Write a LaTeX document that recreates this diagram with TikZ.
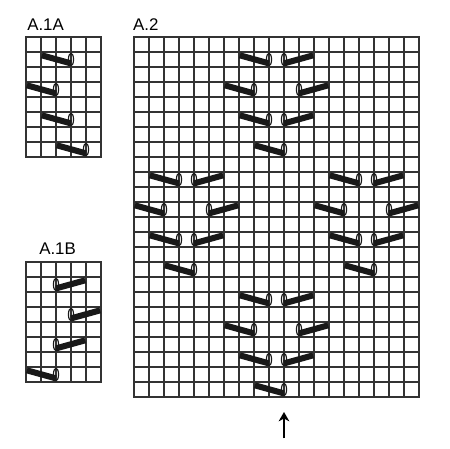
\documentclass[tikz,border=0pt]{standalone}
\usepackage{fontspec}
\setmainfont{Liberation Sans}
\usepackage{tikz}
\usetikzlibrary{arrows.meta}

\tikzset{
  gridline/.style={line width=1.2pt, black!80, line cap=rect},
  stitchbar/.style={line width=4.6pt, black!90},
  stitchloop/.style={line width=0.9pt, black!90},
  charttitle/.style={anchor=base west, inner sep=0pt, font=\fontsize{12.8pt}{15pt}\selectfont}
}
\newcommand{\lstitch}[2]{%
  \draw[stitchbar] (#1-1.95,#2-0.22) -- (#1,#2-0.76);
  \draw[stitchloop] (#1,#2-0.5) ellipse (0.17 and 0.42);}
\newcommand{\rstitch}[2]{%
  \draw[stitchbar] (#1+1.95,#2-0.22) -- (#1,#2-0.76);
  \draw[stitchloop] (#1,#2-0.5) ellipse (0.17 and 0.42);}

\begin{document}
\begin{tikzpicture}[x=0.4cm, y=0.4cm]
                    \useasboundingbox (-8.933,-3.4) rectangle (21.067,26.467);

                    \node[charttitle] (titleAoneA) at (-7.13,24.45) {A.1A};
                    \node[charttitle] (titleAtwo) at (-0.07,24.45) {A.2};
                    \node[charttitle] (titleAoneB) at (-6.33,9.47) {A.1B};

                    \begin{scope}[shift={(-7.2,16)}]
                      \draw[gridline] (0,0) grid[step=1] (5,8);
                      \draw[gridline] (0,0) rectangle (5,8);
                      \lstitch{3}{7}
                      \lstitch{2}{5}
                      \lstitch{3}{3}
                      \lstitch{4}{1}
                    \end{scope}

                    \begin{scope}[shift={(-7.2,1)}]
                      \draw[gridline] (0,0) grid[step=1] (5,8);
                      \draw[gridline] (0,0) rectangle (5,8);
                      \rstitch{2}{7}
                      \rstitch{3}{5}
                      \rstitch{2}{3}
                      \lstitch{2}{1}
                    \end{scope}

                    \draw[gridline] (0,0) grid[step=1] (19,24);
                    \draw[gridline] (0,0) rectangle (19,24);

                    \lstitch{9}{23} \rstitch{10}{23}
                    \lstitch{8}{21} \rstitch{11}{21}
                    \lstitch{9}{19} \rstitch{10}{19}
                    \lstitch{10}{17}

                    \lstitch{3}{15} \rstitch{4}{15}
                    \lstitch{2}{13} \rstitch{5}{13}
                    \lstitch{3}{11} \rstitch{4}{11}
                    \lstitch{4}{9}

                    \lstitch{15}{15} \rstitch{16}{15}
                    \lstitch{14}{13} \rstitch{17}{13}
                    \lstitch{15}{11} \rstitch{16}{11}
                    \lstitch{16}{9}

                    \lstitch{9}{7} \rstitch{10}{7}
                    \lstitch{8}{5} \rstitch{11}{5}
                    \lstitch{9}{3} \rstitch{10}{3}
                    \lstitch{10}{1}

                    \coordinate (arrowtail) at (10,-2.75);
                    \coordinate (arrowtip) at (10,-1);
                    \draw[-{Stealth[length=7pt,width=8pt,inset=2pt]}, line width=1.4pt] (arrowtail) -- (arrowtip);
\end{tikzpicture}
\end{document}
